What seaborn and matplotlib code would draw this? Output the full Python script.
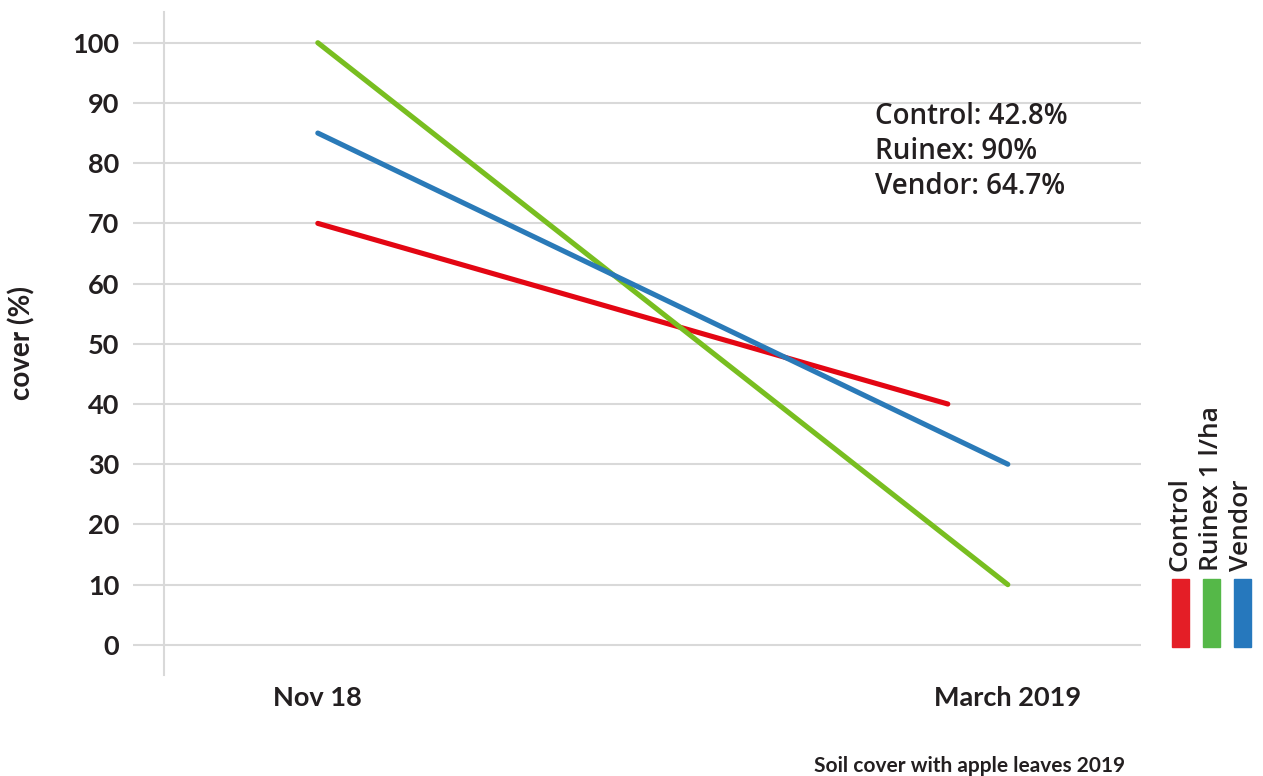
import pandas as pd
import matplotlib.pyplot as plt
import seaborn as sns
from matplotlib.patches import Rectangle

# Datos
series_names = ['Control', 'Ruinex 1 l/ha', 'Vendor']
x_control = [0, 0.913]
x_ruinex = [0, 1]
x_vendor = [0, 1]
control_cover = [70, 40]
ruinex_cover = [100, 10]
vendor_cover = [85, 30]
x_tick_pos = [0, 1]
x_tick_labels = ['Nov 18', 'March 2019']
y_ticks = [0, 10, 20, 30, 40, 50, 60, 70, 80, 90, 100]
summary = ['Control: 42.8%', 'Ruinex: 90%', 'Vendor: 64.7%']

line_colors = ['#e30613', '#78be20', '#2a7ab8']
legend_colors = ['#e41e26', '#55b848', '#2678bd']
grid_color = '#d9d9d9'
text_color = '#231f20'


def build_frame():
    rows = []
    for name, xs, ys in zip(series_names,
                            [x_control, x_ruinex, x_vendor],
                            [control_cover, ruinex_cover, vendor_cover]):
        for x, y in zip(xs, ys):
            rows.append({'time': x, 'cover': y, 'serie': name})
    return pd.DataFrame(rows)


def main():
    data = build_frame()

    sns.set_style("white")
    plt.rcParams['font.family'] = ['Lato', 'DejaVu Sans']

    fig = plt.figure(figsize=(12.63, 7.76), dpi=100)
    ax = fig.add_axes([0.1298, 0.1302, 0.9034 - 0.1298, 0.9845 - 0.1302])

    sns.lineplot(data=data, x='time', y='cover', hue='serie',
                 palette=dict(zip(series_names, line_colors)),
                 linewidth=3.7, sort=False, legend=False, ax=ax)

    ax.set_xlim(-0.223, 1.193)
    ax.set_ylim(-5, 105.1)
    ax.set_yticks(y_ticks)
    ax.set_xticks(x_tick_pos)
    ax.set_xticklabels(x_tick_labels)
    ax.set_xlabel('')
    ax.set_ylabel('')

    ax.yaxis.grid(True, color=grid_color, linewidth=1.5)
    ax.xaxis.grid(False)
    for side in ['top', 'right', 'bottom']:
        ax.spines[side].set_visible(False)
    ax.spines['left'].set_color(grid_color)
    ax.spines['left'].set_linewidth(1.5)

    ax.tick_params(axis='y', length=22, width=1.5, color=grid_color, pad=10,
                   labelsize=19.5, labelcolor=text_color, left=True)
    ax.tick_params(axis='x', length=0, pad=8, labelsize=19.5, labelcolor=text_color)
    for lbl in ax.get_xticklabels() + ax.get_yticklabels():
        lbl.set_fontweight('bold')

    # Etiqueta del eje Y
    fig.text(22 / 1263, 1 - 343 / 776, 'cover (%)', rotation=90, ha='center',
             va='center', fontsize=20, fontweight='bold', color=text_color)

    # Resumen
    fig.text(875 / 1263, 1 - 102 / 776, '\n'.join(summary), ha='left', va='top',
             fontsize=20, fontweight='semibold', color=text_color,
             family=['Open Sans', 'DejaVu Sans'], linespacing=1.27)

    # Leyenda vertical
    centers = [1180, 1211, 1242]
    for name, col, cx in zip(series_names, legend_colors, centers):
        fig.text(cx / 1263, 1 - 571 / 776, name, rotation=90, ha='center',
                 va='bottom', fontsize=19, fontweight='semibold',
                 color=text_color, family=['Open Sans', 'DejaVu Sans'])
        fig.patches.append(Rectangle(((cx - 8.5) / 1263, 1 - 647 / 776),
                                     17 / 1263, 68 / 776, color=col,
                                     transform=fig.transFigure, figure=fig))

    # Titulo al pie
    fig.text(970 / 1263, 1 - 766 / 776, 'Soil cover with apple leaves 2019',
             ha='center', va='center', fontsize=15, fontweight='bold',
             color=text_color)

    plt.savefig('out.png', dpi=100)


if __name__ == "__main__":
    main()
